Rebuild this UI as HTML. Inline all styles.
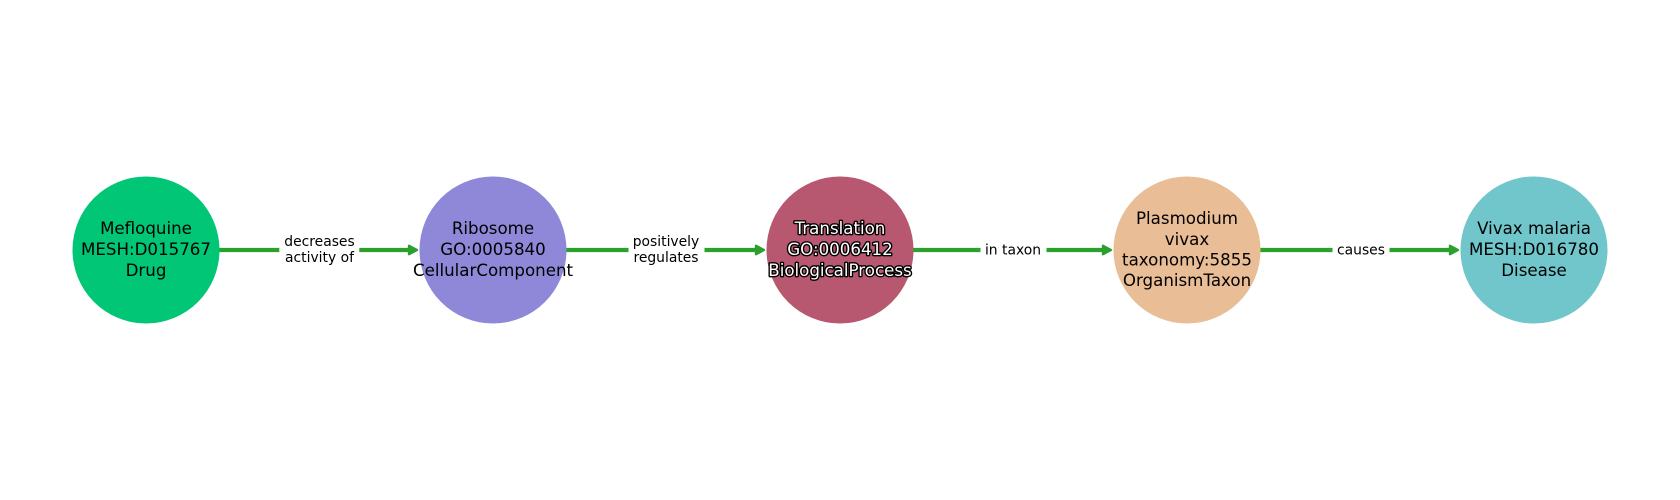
<!DOCTYPE html>
<html>
<head>
<meta charset="utf-8">
<style>
html,body{margin:0;padding:0;background:#fff;}
svg{display:block;}
text{font-family:"DejaVu Sans",sans-serif;text-anchor:middle;}
.n{font-size:16.67px;fill:#000;}
.e{font-size:13.89px;fill:#000;}
.o{fill:#fff;stroke:#000;stroke-width:2.8px;paint-order:stroke;stroke-linejoin:round;}
</style>
</head>
<body>
<svg width="1680" height="500" viewBox="0 0 1680 500" xmlns="http://www.w3.org/2000/svg">
<rect width="1680" height="500" fill="#fff"/>
<g stroke="#2ca02c" stroke-width="4.17" fill="none">
<line x1="219" y1="250" x2="412" y2="250"/>
<line x1="566" y1="250" x2="759" y2="250"/>
<line x1="913" y1="250" x2="1106" y2="250"/>
<line x1="1260" y1="250" x2="1453" y2="250"/>
</g>
<g fill="#2ca02c" stroke="#2ca02c" stroke-width="2.4" stroke-linejoin="round">
<polygon points="417,250 409,245.8 409,254.2"/>
<polygon points="764,250 756,245.8 756,254.2"/>
<polygon points="1111,250 1103,245.8 1103,254.2"/>
<polygon points="1458,250 1450,245.8 1450,254.2"/>
</g>
<circle cx="146" cy="250" r="73.5" fill="#00c675"/>
<circle cx="493" cy="250" r="73.5" fill="#8f88d9"/>
<circle cx="840" cy="250" r="73.5" fill="#b75870"/>
<circle cx="1187" cy="250" r="73.5" fill="#e9bd96"/>
<circle cx="1534" cy="250" r="73.5" fill="#70c6cb"/>
<rect x="279.3" y="232" width="80" height="36" fill="#fff"/>
<rect x="628.5" y="232" width="76" height="36" fill="#fff"/>
<rect x="980.5" y="240" width="66" height="20" fill="#fff"/>
<rect x="1332.5" y="240" width="57" height="20" fill="#fff"/>
<text class="n" x="146" y="234">Mefloquine</text>
<text class="n" x="146" y="255">MESH:D015767</text>
<text class="n" x="146" y="276">Drug</text>
<text class="n" x="493" y="234">Ribosome</text>
<text class="n" x="493" y="255">GO:0005840</text>
<text class="n" x="493" y="276">CellularComponent</text>
<text class="n o" x="840" y="234">Translation</text>
<text class="n o" x="840" y="255">GO:0006412</text>
<text class="n o" x="840" y="276">BiologicalProcess</text>
<text class="n" x="1187" y="224">Plasmodium</text>
<text class="n" x="1187" y="245">vivax</text>
<text class="n" x="1187" y="265.5">taxonomy:5855</text>
<text class="n" x="1187" y="286">OrganismTaxon</text>
<text class="n" x="1534" y="234">Vivax malaria</text>
<text class="n" x="1534" y="255">MESH:D016780</text>
<text class="n" x="1534" y="276">Disease</text>
<text class="e" x="319.5" y="246">decreases</text>
<text class="e" x="319.5" y="262">activity of</text>
<text class="e" x="666" y="246">positively</text>
<text class="e" x="666" y="262">regulates</text>
<text class="e" x="1013" y="254.5">in taxon</text>
<text class="e" x="1361" y="254.5">causes</text>
</svg>
</body>
</html>
